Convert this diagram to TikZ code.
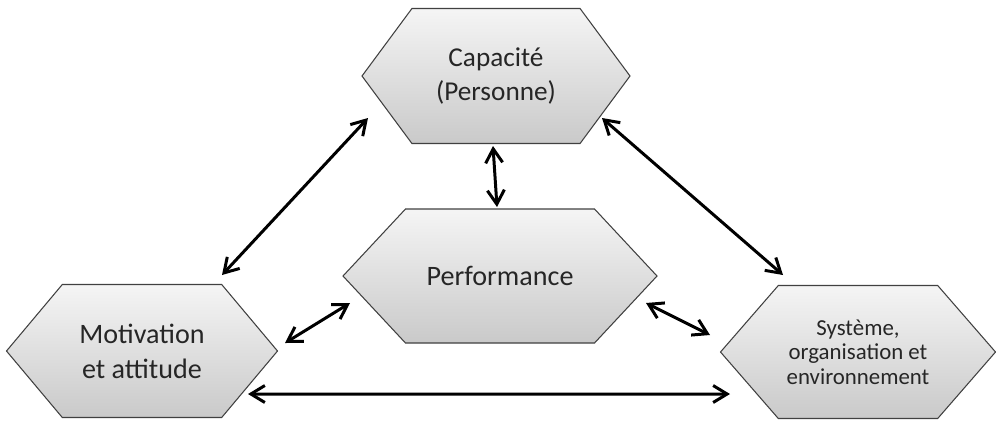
\documentclass[tikz,border=0pt]{standalone}
\usepackage{fontspec}
\setmainfont{Carlito}
\usetikzlibrary{arrows.meta,shapes.symbols}
\definecolor{edge}{HTML}{404040}
\definecolor{ink}{HTML}{262626}

\begin{document}
\begin{tikzpicture}[hexa/.style={shape=signal,signal to=east and west,draw=edge,line width=0.6pt,
top color=gray!8,bottom color=gray!42,text=ink,align=center,inner sep=0pt},
arr/.style={{Straight Barb[length=2.8mm,width=3.4mm]}-{Straight Barb[length=2.8mm,width=3.4mm]},line width=1.7pt}]
\useasboundingbox (0,0) rectangle (19.92,-8.42);
\node[hexa,minimum width=5.36cm,minimum height=2.7cm,signal pointer angle=107,
font=\fontsize{15.5}{19}\selectfont] (cap) at (9.92,-1.52) {Capacité\\(Personne)};
\node[hexa,minimum width=6.28cm,minimum height=2.68cm,signal pointer angle=94,
font=\fontsize{16}{19}\selectfont] (perf) at (10,-5.52) {Performance};
\node[hexa,minimum width=5.42cm,minimum height=2.66cm,signal pointer angle=100,
font=\fontsize{16}{20}\selectfont] (mot) at (2.84,-7.02) {Motivation\\et attitude};
\node[hexa,minimum width=5.5cm,minimum height=2.66cm,signal pointer angle=98,
font=\fontsize{13}{14}\selectfont] (sys) at (17.16,-7.04) {Système,\\organisation et\\environnement};
\draw[arr] ([shift={(-0.06,-1.40)}]cap.center)--([shift={(-0.06,1.38)}]perf.center);
\draw[arr] ([shift={(1.60,1.52)}]mot.center)--([shift={(-2.56,-0.84)}]cap.center);
\draw[arr] ([shift={(2.12,-0.84)}]cap.center)--([shift={(-1.50,1.54)}]sys.center);
\draw[arr] ([shift={(2.86,0.16)}]mot.center)--([shift={(-3.0,-0.54)}]perf.center);
\draw[arr] ([shift={(2.92,-0.54)}]perf.center)--([shift={(-2.96,0.34)}]sys.center);
\draw[arr] ([shift={(2.12,-0.86)}]mot.center)--([shift={(-2.56,-0.84)}]sys.center);
\end{tikzpicture}
\end{document}
